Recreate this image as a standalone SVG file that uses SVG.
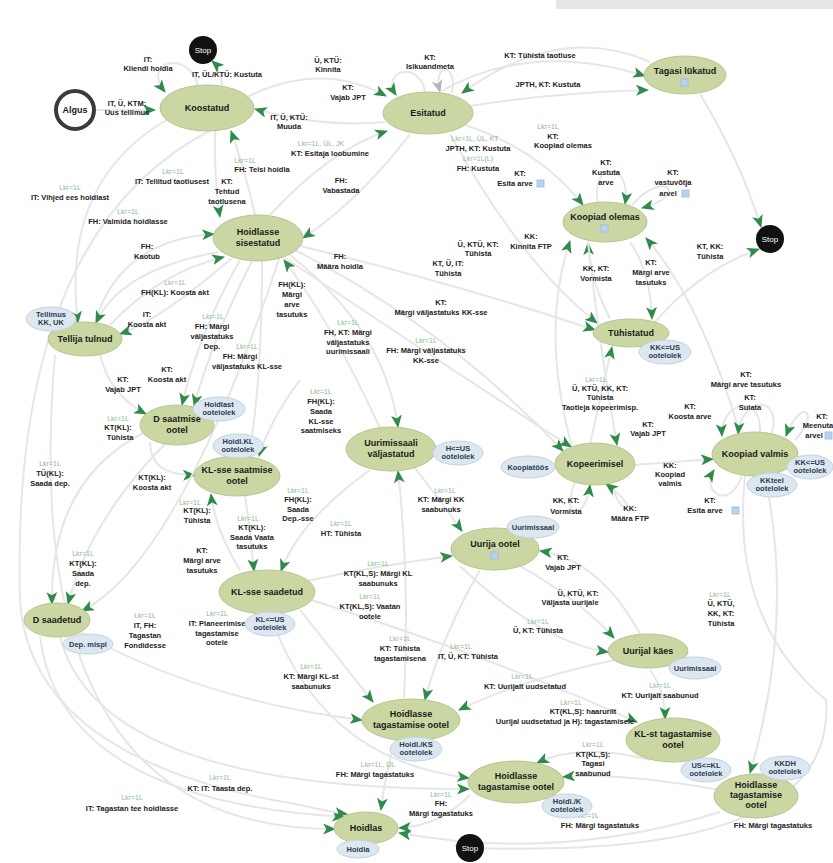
<svg xmlns="http://www.w3.org/2000/svg" width="833" height="863" viewBox="0 0 833 863">
<style>
.gn{fill:#cad7a2;stroke:#b6c58e;stroke-width:1}
.bn{fill:#dde7f0;stroke:#c3d2e2;stroke-width:1}
.st{fill:#111}
.nt{font-family:"Liberation Sans",Arial,sans-serif;font-size:9px;font-weight:bold;fill:#1a1a1a;text-anchor:middle}
.bt{font-family:"Liberation Sans",Arial,sans-serif;font-size:7.5px;font-weight:bold;fill:#2a3a50;text-anchor:middle}
.wt{font-family:"Liberation Sans",Arial,sans-serif;font-size:8px;fill:#fff;text-anchor:middle}
.lb{font-family:"Liberation Sans",Arial,sans-serif;font-size:7.5px;font-weight:bold;fill:#222;text-anchor:middle}
.gl{font-family:"Liberation Sans",Arial,sans-serif;font-size:7px;fill:#8bbb8b;text-anchor:middle}
.e{fill:none;stroke:#e6e6e6;stroke-width:2;marker-end:url(#ah)}
.eg{fill:none;stroke:#e6e6e6;stroke-width:2;marker-end:url(#ahg)}
.ic{fill:#b9d3ee;stroke:#9bbbe0;stroke-width:0.8}
</style>
<defs>
<marker id="ah" viewBox="0 0 12 10" refX="11" refY="5" markerWidth="13" markerHeight="11" markerUnits="userSpaceOnUse" orient="auto">
<path d="M0,0 L12,5 L0,10 L3,5 z" fill="#2f8a4c"/>
</marker>
<marker id="ahg" viewBox="0 0 12 10" refX="11" refY="5" markerWidth="13" markerHeight="11" markerUnits="userSpaceOnUse" orient="auto">
<path d="M0,0 L12,5 L0,10 L3,5 z" fill="#b5b5b5"/>
</marker>
</defs>
<rect x="0" y="0" width="833" height="863" fill="#fff"/>
<rect x="556" y="0" width="277" height="9" fill="#e6e6e6"/>

<g id="connectors">
<path class="e" d="M95,110 L155,110"/>
<path class="e" d="M222,87 Q222,70 212,61"/>
<path class="e" d="M198,86 C190,50 140,60 165,92"/>
<path class="e" d="M245,98 Q320,60 386,96"/>
<path class="e" d="M385,122 Q320,128 255,109"/>
<path class="e" d="M425,92 C420,60 380,70 396,95"/>
<path class="eg" d="M452,93 C458,62 432,62 440,92"/>
<path class="e" d="M440,92 Q530,40 645,76"/>
<path class="e" d="M470,106 Q560,92 648,90"/>
<path class="e" d="M650,62 Q560,22 462,93"/>
<path class="e" d="M270,215 Q330,150 387,131"/>
<path class="e" d="M255,215 Q245,170 231,131"/>
<path class="e" d="M700,94 Q740,160 761,227"/>
<path class="e" d="M465,125 Q540,150 583,205"/>
<path class="e" d="M598,203 C590,160 632,160 625,204"/>
<path class="e" d="M632,205 C665,168 690,195 642,208"/>
<path class="e" d="M610,319 Q590,280 588,243"/>
<path class="e" d="M572,447 Q540,330 570,241"/>
<path class="e" d="M740,433 Q700,300 646,238"/>
<path class="e" d="M655,322 Q700,270 759,249"/>
<path class="e" d="M630,242 Q650,270 652,319"/>
<path class="e" d="M450,134 Q520,262 597,323"/>
<path class="e" d="M300,246 Q450,282 595,330"/>
<path class="e" d="M590,444 Q600,400 612,347"/>
<path class="e" d="M215,131 Q214,180 220,217"/>
<path class="e" d="M95,322 Q120,240 214,234"/>
<path class="e" d="M110,325 Q160,272 224,257"/>
<path class="e" d="M410,134 Q360,200 303,238"/>
<path class="e" d="M380,428 Q330,320 284,260"/>
<path class="e" d="M170,118 Q60,180 78,323"/>
<path class="e" d="M218,252 Q120,270 96,323"/>
<path class="e" d="M232,258 Q160,320 120,334"/>
<path class="e" d="M240,260 Q200,330 182,405"/>
<path class="e" d="M252,261 Q212,340 194,406"/>
<path class="e" d="M100,355 Q110,395 146,414"/>
<path class="e" d="M150,442 Q150,476 195,475"/>
<path class="e" d="M262,261 Q262,380 249,456"/>
<path class="e" d="M300,380 Q270,420 259,456"/>
<path class="e" d="M240,570 Q215,530 211,494"/>
<path class="e" d="M290,255 Q385,330 398,427"/>
<path class="e" d="M404,698 Q410,580 398,471"/>
<path class="e" d="M295,250 Q450,330 563,451"/>
<path class="e" d="M285,258 Q440,362 571,447"/>
<path class="e" d="M588,242 Q600,350 617,445"/>
<path class="e" d="M575,482 C560,520 585,522 590,485"/>
<path class="e" d="M612,484 C620,520 645,512 606,484"/>
<path class="e" d="M634,465 L713,459"/>
<path class="e" d="M742,475 C730,512 700,492 714,470"/>
<path class="e" d="M760,432 C762,392 720,402 722,436"/>
<path class="e" d="M772,433 C782,395 742,395 738,434"/>
<path class="e" d="M795,440 C822,410 800,398 786,436"/>
<path class="e" d="M415,468 Q440,500 462,531"/>
<path class="e" d="M302,582 Q380,565 452,556"/>
<path class="e" d="M640,634 Q600,560 540,551"/>
<path class="e" d="M245,495 Q250,530 254,571"/>
<path class="e" d="M370,470 Q300,520 281,571"/>
<path class="e" d="M145,432 Q50,480 52,604"/>
<path class="e" d="M165,444 Q90,520 68,604"/>
<path class="e" d="M280,256 Q180,560 82,611"/>
<path class="e" d="M520,566 Q580,600 614,638"/>
<path class="e" d="M460,566 Q540,642 608,652"/>
<path class="e" d="M300,610 Q340,660 373,702"/>
<path class="e" d="M480,570 Q440,640 425,700"/>
<path class="e" d="M615,660 Q520,680 459,710"/>
<path class="e" d="M80,632 Q200,700 362,720"/>
<path class="e" d="M650,670 Q665,690 665,719"/>
<path class="e" d="M305,598 Q500,660 637,722"/>
<path class="e" d="M270,614 Q320,760 469,778"/>
<path class="e" d="M60,637 Q100,790 469,789"/>
<path class="e" d="M650,760 Q580,742 537,763"/>
<path class="e" d="M720,790 Q620,772 563,777"/>
<path class="e" d="M765,476 Q795,620 750,773"/>
<path class="e" d="M745,476 Q730,620 826,700 Q836,840 560,848 Q480,850 456,846"/>
<path class="e" d="M395,741 Q385,775 381,810"/>
<path class="e" d="M470,795 Q440,826 399,828"/>
<path class="e" d="M720,812 Q560,862 399,833"/>
<path class="e" d="M40,636 Q60,800 344,817"/>
<path class="e" d="M55,355 Q15,830 335,829"/>
<path class="e" d="M215,128 Q10,230 20,600 Q30,760 300,805 Q330,812 347,814"/>
</g>

<g id="edge-labels">
<text class="lb" x="148" y="62">IT:</text><text class="lb" x="148" y="71">Kliendi hoidla</text>
<text class="lb" x="227" y="77">IT, ÜL/KTÜ: Kustuta</text>
<text class="lb" x="127" y="106">IT, Ü, KTM:</text><text class="lb" x="127" y="115">Uus tellimus</text>
<text class="lb" x="328" y="63">Ü, KTÜ:</text><text class="lb" x="328" y="72">Kinnita</text>
<text class="lb" x="348" y="90">KT:</text><text class="lb" x="348" y="100">Vajab JPT</text>
<text class="lb" x="430" y="60">KT:</text><text class="lb" x="430" y="69">Isikuandmeta</text>
<text class="lb" x="289" y="120">IT, Ü, KTÜ:</text><text class="lb" x="289" y="129">Muuda</text>
<text class="gl" x="321" y="146">Lkr=1L, ÜL, JK</text><text class="lb" x="330" y="156">KT: Esitaja loobumine</text>
<text class="gl" x="245" y="163">Lkr=1L</text><text class="lb" x="262" y="172">FH: Teisi hoidla</text>
<text class="gl" x="173" y="174">Lkr=1L</text><text class="lb" x="172" y="184">IT: Tellitud taotlusest</text>
<text class="lb" x="227" y="184">KT:</text><text class="lb" x="227" y="194">Tehtud</text><text class="lb" x="227" y="204">taotlusena</text>
<text class="gl" x="70" y="190">Lkr=1L</text><text class="lb" x="70" y="200">IT: Vihjed ees hoidlast</text>
<text class="lb" x="341" y="183">FH:</text><text class="lb" x="341" y="193">Vabastada</text>
<text class="gl" x="475" y="141">Lkr=1L, ÜL, KT</text><text class="lb" x="478" y="151">JPTH, KT: Kustuta</text>
<text class="gl" x="478" y="161">Lkr=1L(L)</text><text class="lb" x="478" y="171">FH: Kustuta</text>
<text class="lb" x="520" y="176">KT:</text><text class="lb" x="515" y="186">Esita arve</text><rect class="ic" x="537" y="180" width="7" height="7"/>
<text class="gl" x="548" y="129">Lkr=1L</text><text class="lb" x="553" y="139">KT:</text><text class="lb" x="563" y="148">Koopiad olemas</text>
<text class="lb" x="540" y="58">KT: Tühista taotluse</text>
<text class="lb" x="548" y="87">JPTH, KT: Kustuta</text>
<text class="lb" x="606" y="165">KT:</text><text class="lb" x="606" y="175">Kustuta</text><text class="lb" x="606" y="185">arve</text>
<text class="lb" x="673" y="175">KT:</text><text class="lb" x="673" y="185">vastuvõtja</text><text class="lb" x="668" y="196">arvel</text><rect class="ic" x="682" y="190" width="7" height="7"/>
<text class="gl" x="128" y="214">Lkr=1L</text><text class="lb" x="128" y="224">FH: Valmida hoidlasse</text>
<text class="lb" x="147" y="249">FH:</text><text class="lb" x="147" y="259">Kaotub</text>
<text class="lb" x="340" y="259">FH:</text><text class="lb" x="340" y="269">Määra hoidla</text>
<text class="gl" x="175" y="285">Lkr=1L</text><text class="lb" x="175" y="295">FH(KL): Koosta akt</text>
<text class="lb" x="147" y="317">IT:</text><text class="lb" x="147" y="327">Koosta akt</text>
<text class="lb" x="292" y="287">FH(KL):</text><text class="lb" x="292" y="297">Märgi</text><text class="lb" x="292" y="307">arve</text><text class="lb" x="292" y="317">tasutuks</text>
<text class="gl" x="213" y="319">Lkr=1L</text><text class="lb" x="212" y="329">FH: Märgi</text><text class="lb" x="212" y="339">väljastatuks</text><text class="lb" x="212" y="349">Dep.</text>
<text class="gl" x="247" y="349">Lkr=1L</text><text class="lb" x="240" y="359">FH: Märgi</text><text class="lb" x="247" y="369">väljastatuks KL-sse</text>
<text class="lb" x="478" y="247">Ü, KTÜ, KT:</text><text class="lb" x="478" y="256">Tühista</text>
<text class="lb" x="531" y="239">KK:</text><text class="lb" x="531" y="249">Kinnita FTP</text>
<text class="lb" x="448" y="266">KT, Ü, IT:</text><text class="lb" x="448" y="276">Tühista</text>
<text class="lb" x="441" y="305">KT:</text><text class="lb" x="441" y="315">Märgi väljastatuks KK-sse</text>
<text class="gl" x="348" y="325">Lkr=1L</text><text class="lb" x="348" y="335">FH, KT: Märgi</text><text class="lb" x="348" y="345">väljastatuks</text><text class="lb" x="348" y="354">uurimissaali</text>
<text class="gl" x="426" y="343">Lkr=1L</text><text class="lb" x="426" y="353">FH: Märgi väljastatuks</text><text class="lb" x="426" y="363">KK-sse</text>
<text class="lb" x="710" y="249">KT, KK:</text><text class="lb" x="710" y="259">Tühista</text>
<text class="lb" x="596" y="271">KK, KT:</text><text class="lb" x="596" y="281">Vormista</text>
<text class="lb" x="651" y="265">KT:</text><text class="lb" x="651" y="275">Märgi arve</text><text class="lb" x="651" y="285">tasutuks</text>
<text class="gl" x="321" y="394">Lkr=1L</text><text class="lb" x="321" y="404">FH(KL):</text><text class="lb" x="321" y="414">Saada</text><text class="lb" x="321" y="424">KL-sse</text><text class="lb" x="321" y="433">saatmiseks</text>
<text class="lb" x="167" y="372">KT:</text><text class="lb" x="167" y="382">Koosta akt</text>
<text class="lb" x="123" y="382">KT:</text><text class="lb" x="123" y="392">Vajab JPT</text>
<text class="gl" x="118" y="421">Lkr=1L</text><text class="lb" x="118" y="430">KT(KL):</text><text class="lb" x="120" y="440">Tühista</text>
<text class="gl" x="596" y="382">Lkr=1L</text><text class="lb" x="600" y="391">Ü, KTÜ, KK, KT:</text><text class="lb" x="600" y="400">Tühista</text><text class="lb" x="600" y="410">Taotleja kopeerimisp.</text>
<text class="lb" x="746" y="377">KT:</text><text class="lb" x="746" y="387">Märgi arve tasutuks</text>
<text class="lb" x="750" y="400">KT:</text><text class="lb" x="750" y="410">Sulata</text>
<text class="lb" x="690" y="409">KT:</text><text class="lb" x="690" y="419">Koosta arve</text>
<text class="lb" x="648" y="427">KT:</text><text class="lb" x="648" y="436">Vajab JPT</text>
<text class="lb" x="822" y="419">KT:</text><text class="lb" x="818" y="428">Meenuta</text><text class="lb" x="814" y="438">arvel</text><rect class="ic" x="825" y="432" width="7" height="7"/>
<text class="gl" x="50" y="466">Lkr=1L</text><text class="lb" x="50" y="476">TÜ(KL):</text><text class="lb" x="50" y="486">Saada dep.</text>
<text class="lb" x="152" y="480">KT(KL):</text><text class="lb" x="152" y="490">Koosta akt</text>
<text class="gl" x="190" y="505">Lkr=1L</text><text class="lb" x="197" y="513">KT(KL):</text><text class="lb" x="197" y="523">Tühista</text>
<text class="gl" x="248" y="521">Lkr=1L</text><text class="lb" x="252" y="530">KT(KL):</text><text class="lb" x="252" y="540">Saada Vaata</text><text class="lb" x="252" y="549">tasutuks</text>
<text class="lb" x="202" y="553">KT:</text><text class="lb" x="202" y="563">Märgi arve</text><text class="lb" x="202" y="573">tasutuks</text>
<text class="gl" x="83" y="556">Lkr=1L</text><text class="lb" x="83" y="566">KT(KL):</text><text class="lb" x="83" y="576">Saada</text><text class="lb" x="83" y="586">dep.</text>
<text class="gl" x="145" y="618">Lkr=1L</text><text class="lb" x="145" y="628">IT, FH:</text><text class="lb" x="145" y="638">Tagastan</text><text class="lb" x="145" y="648">Fondidesse</text>
<text class="gl" x="217" y="616">Lkr=1L</text><text class="lb" x="217" y="626">IT: Planeerimise</text><text class="lb" x="217" y="636">tagastamise</text><text class="lb" x="217" y="645">ootele</text>
<text class="gl" x="298" y="493">Lkr=1L</text><text class="lb" x="298" y="502">FH(KL):</text><text class="lb" x="298" y="512">Saada</text><text class="lb" x="298" y="521">Dep.-sse</text>
<text class="gl" x="341" y="526">Lkr=1L</text><text class="lb" x="341" y="536">HT: Tühista</text>
<text class="gl" x="445" y="493">Lkr=1L</text><text class="lb" x="441" y="502">KT: Märgi KK</text><text class="lb" x="441" y="512">saabunuks</text>
<text class="gl" x="378" y="566">Lkr=1L</text><text class="lb" x="378" y="576">KT(KL,S): Märgi KL</text><text class="lb" x="378" y="586">saabunuks</text>
<text class="gl" x="370" y="599">Lkr=1L</text><text class="lb" x="370" y="609">KT(KL,S): Vaatan</text><text class="lb" x="370" y="619">ootele</text>
<text class="lb" x="578" y="596">Ü, KTÜ, KT:</text><text class="lb" x="570" y="605">Väljasta uurijale</text>
<text class="gl" x="538" y="624">Lkr=1L</text><text class="lb" x="538" y="633">Ü, KT: Tühista</text>
<text class="lb" x="566" y="503">KK, KT:</text><text class="lb" x="566" y="514">Vormista</text>
<text class="lb" x="630" y="511">KK:</text><text class="lb" x="630" y="521">Määra FTP</text>
<text class="lb" x="670" y="468">KK:</text><text class="lb" x="670" y="477">Koopiad</text><text class="lb" x="670" y="486">valmis</text>
<text class="lb" x="710" y="503">KT:</text><text class="lb" x="705" y="513">Esita arve</text><rect class="ic" x="732" y="507" width="7" height="7"/>
<text class="lb" x="563" y="560">KT:</text><text class="lb" x="563" y="570">Vajab JPT</text>
<text class="gl" x="720" y="597">Lkr=1L</text><text class="lb" x="721" y="606">Ü, KTÜ,</text><text class="lb" x="721" y="616">KK, KT:</text><text class="lb" x="721" y="626">Tühista</text>
<text class="gl" x="400" y="641">Lkr=1L</text><text class="lb" x="400" y="651">KT: Tühista</text><text class="lb" x="400" y="661">tagastamisena</text>
<text class="gl" x="461" y="649">Lkr=1L</text><text class="lb" x="468" y="659">IT, Ü, KT: Tühista</text>
<text class="gl" x="311" y="669">Lkr=1L</text><text class="lb" x="311" y="679">KT: Märgi KL-st</text><text class="lb" x="311" y="689">saabunuks</text>
<text class="gl" x="522" y="679">Lkr=1L</text><text class="lb" x="525" y="689">KT: Uurijalt uudsetatud</text>
<text class="gl" x="660" y="688">Lkr=1L</text><text class="lb" x="660" y="698">KT: Uurijalt saabunud</text>
<text class="gl" x="571" y="705">Lkr=1L</text><text class="lb" x="583" y="714">KT(KL,S): haarurilt</text><text class="lb" x="565" y="724">Uurijal uudsetatud ja H): tagastamisele</text>
<text class="gl" x="378" y="767">Lkr=1L, ÜL</text><text class="lb" x="375" y="777">FH: Märgi tagastatuks</text>
<text class="gl" x="441" y="797">Lkr=1L</text><text class="lb" x="441" y="806">FH:</text><text class="lb" x="441" y="816">Märgi tagastatuks</text>
<text class="gl" x="593" y="747">Lkr=1L</text><text class="lb" x="593" y="757">KT(KL,S):</text><text class="lb" x="593" y="766">Tagasi</text><text class="lb" x="593" y="776">saabunud</text>
<text class="gl" x="588" y="818">Lkr=1L</text><text class="lb" x="600" y="828">FH: Märgi tagastatuks</text>
<text class="lb" x="773" y="828">FH: Märgi tagastatuks</text>
<text class="gl" x="220" y="780">Lkr=1L</text><text class="lb" x="220" y="791">KT: IT: Taasta dep.</text>
<text class="gl" x="132" y="800">Lkr=1L</text><text class="lb" x="132" y="811">IT: Tagastan tee hoidlasse</text>
</g>

<g id="n-algus"><circle cx="75" cy="110" r="19" fill="#fff" stroke="#3a3a3a" stroke-width="4"/><text class="nt" x="75" y="113">Algus</text></g>
<g id="n-stop1"><circle class="st" cx="203" cy="50" r="14"/><text class="wt" x="203" y="53">Stop</text></g>
<g id="n-stop2"><circle class="st" cx="770" cy="239" r="14"/><text class="wt" x="770" y="242">Stop</text></g>
<g id="n-stop3"><circle class="st" cx="470" cy="848" r="14"/><text class="wt" x="470" y="851">Stop</text></g>

<g id="n-koostatud"><ellipse class="gn" cx="207" cy="108" rx="47" ry="23"/><text class="nt" x="207" y="111">Koostatud</text></g>
<g id="n-esitatud"><ellipse class="gn" cx="428" cy="113" rx="45" ry="21"/><text class="nt" x="428" y="116">Esitatud</text></g>
<g id="n-tagasi"><ellipse class="gn" cx="685" cy="75" rx="41" ry="19"/><text class="nt" x="685" y="74">Tagasi lükatud</text><rect class="ic" x="681" y="79" width="7" height="7"/></g>
<g id="n-koopiad-olemas"><ellipse class="gn" cx="605" cy="222" rx="42" ry="20"/><text class="nt" x="605" y="220">Koopiad olemas</text><rect class="ic" x="601" y="225" width="7" height="7"/></g>
<g id="n-hoidlasse-sisestatud"><ellipse class="gn" cx="258" cy="238" rx="45" ry="23"/><text class="nt" x="258" y="235">Hoidlasse</text><text class="nt" x="258" y="246">sisestatud</text></g>
<g id="n-tellija"><ellipse class="gn" cx="85" cy="339" rx="37" ry="17"/><text class="nt" x="85" y="342">Tellija tulnud</text><ellipse class="bn" cx="51" cy="319" rx="25" ry="12"/><text class="bt" x="51" y="317">Tellimus</text><text class="bt" x="51" y="325">KK, UK</text></g>
<g id="n-d-saatmise"><ellipse class="gn" cx="177" cy="425" rx="37" ry="20"/><text class="nt" x="177" y="422">D saatmise</text><text class="nt" x="177" y="433">ootel</text><ellipse class="bn" cx="219" cy="409" rx="26" ry="12"/><text class="bt" x="219" y="407">Hoidlast</text><text class="bt" x="219" y="415">ootelolek</text></g>
<g id="n-kl-saatmise"><ellipse class="gn" cx="237" cy="476" rx="43" ry="20"/><text class="nt" x="237" y="473">KL-sse saatmise</text><text class="nt" x="237" y="484">ootel</text><ellipse class="bn" cx="238" cy="446" rx="25" ry="12"/><text class="bt" x="238" y="444">Hoidl.KL</text><text class="bt" x="238" y="452">ootelolek</text></g>
<g id="n-uurimissaali"><ellipse class="gn" cx="391" cy="449" rx="45" ry="22"/><text class="nt" x="391" y="446">Uurimissaali</text><text class="nt" x="391" y="457">väljastatud</text><ellipse class="bn" cx="458" cy="453" rx="25" ry="12"/><text class="bt" x="458" y="451">H&lt;=US</text><text class="bt" x="458" y="459">ootelolek</text></g>
<g id="n-tuhistatud"><ellipse class="gn" cx="631" cy="333" rx="38" ry="14"/><text class="nt" x="631" y="336">Tühistatud</text><ellipse class="bn" cx="665" cy="352" rx="26" ry="12"/><text class="bt" x="665" y="350">KK&lt;=US</text><text class="bt" x="665" y="358">ootelolek</text></g>
<g id="n-kopeerimisel"><ellipse class="gn" cx="595" cy="464" rx="40" ry="21"/><text class="nt" x="595" y="467">Kopeerimisel</text><ellipse class="bn" cx="528" cy="467" rx="27" ry="11"/><text class="bt" x="528" y="470">Koopiatöös</text></g>
<g id="n-koopiad-valmis"><ellipse class="gn" cx="755" cy="454" rx="43" ry="22"/><text class="nt" x="755" y="457">Koopiad valmis</text><ellipse class="bn" cx="772" cy="485" rx="25" ry="12"/><text class="bt" x="772" y="483">KKteel</text><text class="bt" x="772" y="491">ootelolek</text><ellipse class="bn" cx="810" cy="467" rx="23" ry="12"/><text class="bt" x="810" y="465">KK&lt;=US</text><text class="bt" x="810" y="473">ootelolek</text></g>
<g id="n-uurija-ootel"><ellipse class="gn" cx="495" cy="549" rx="44" ry="21"/><text class="nt" x="495" y="547">Uurija ootel</text><rect class="ic" x="491" y="552" width="7" height="7"/><ellipse class="bn" cx="533" cy="527" rx="26" ry="11"/><text class="bt" x="533" y="530">Uurimissaal</text></g>
<g id="n-kl-saadetud"><ellipse class="gn" cx="267" cy="592" rx="48" ry="22"/><text class="nt" x="267" y="595">KL-sse saadetud</text><ellipse class="bn" cx="270" cy="624" rx="25" ry="12"/><text class="bt" x="270" y="622">KL&lt;=US</text><text class="bt" x="270" y="630">ootelolek</text></g>
<g id="n-d-saadetud"><ellipse class="gn" cx="57" cy="620" rx="33" ry="17"/><text class="nt" x="57" y="623">D saadetud</text><ellipse class="bn" cx="88" cy="644" rx="25" ry="10"/><text class="bt" x="88" y="647">Dep. mispl</text></g>
<g id="n-uurijal-kaes"><ellipse class="gn" cx="648" cy="651" rx="40" ry="17"/><text class="nt" x="648" y="654">Uurijal käes</text><ellipse class="bn" cx="695" cy="668" rx="26" ry="11"/><text class="bt" x="695" y="671">Uurimissaal</text></g>
<g id="n-hoidlasse-tag1"><ellipse class="gn" cx="411" cy="720" rx="49" ry="21"/><text class="nt" x="411" y="717">Hoidlasse</text><text class="nt" x="411" y="728">tagastamise ootel</text><ellipse class="bn" cx="416" cy="749" rx="26" ry="12"/><text class="bt" x="416" y="747">Hoidl./KS</text><text class="bt" x="416" y="755">ootelolek</text></g>
<g id="n-kl-st-tag"><ellipse class="gn" cx="673" cy="740" rx="47" ry="22"/><text class="nt" x="673" y="737">KL-st tagastamise</text><text class="nt" x="673" y="748">ootel</text><ellipse class="bn" cx="706" cy="770" rx="25" ry="12"/><text class="bt" x="706" y="768">US&lt;=KL</text><text class="bt" x="706" y="776">ootelolek</text></g>
<g id="n-hoidlasse-tag2"><ellipse class="gn" cx="516" cy="782" rx="48" ry="21"/><text class="nt" x="516" y="779">Hoidlasse</text><text class="nt" x="516" y="790">tagastamise ootel</text><ellipse class="bn" cx="567" cy="806" rx="25" ry="12"/><text class="bt" x="567" y="804">Hoidl./K</text><text class="bt" x="567" y="812">ootelolek</text></g>
<g id="n-hoidlasse-tag3"><ellipse class="gn" cx="756" cy="796" rx="42" ry="22"/><text class="nt" x="756" y="788">Hoidlasse</text><text class="nt" x="756" y="798">tagastamise</text><text class="nt" x="756" y="808">ootel</text><ellipse class="bn" cx="785" cy="768" rx="25" ry="12"/><text class="bt" x="785" y="766">KKDH</text><text class="bt" x="785" y="774">ootelolek</text></g>
<g id="n-hoidlas"><ellipse class="gn" cx="366" cy="828" rx="32" ry="16"/><text class="nt" x="366" y="831">Hoidlas</text><ellipse class="bn" cx="358" cy="849" rx="21" ry="9"/><text class="bt" x="358" y="852">Hoidla</text></g>
</svg>
